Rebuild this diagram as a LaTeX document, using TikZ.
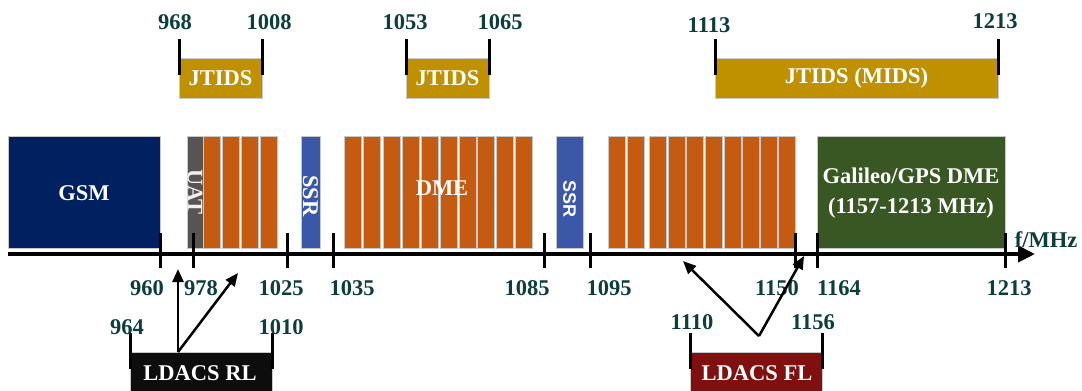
\documentclass[tikz,border=0pt]{standalone}
\usepackage{fontspec}
\setmainfont{Liberation Serif}
\setsansfont{Liberation Sans}
\usetikzlibrary{arrows.meta}
\definecolor{numc}{RGB}{12,62,60}
\definecolor{gsmc}{RGB}{0,32,96}
\definecolor{uatc}{RGB}{85,85,85}
\definecolor{dmec}{RGB}{197,90,17}
\definecolor{ssrc}{RGB}{59,87,167}
\definecolor{galc}{RGB}{56,87,35}
\definecolor{jtc}{RGB}{191,144,0}
\definecolor{rlc}{RGB}{13,13,13}
\definecolor{flc}{RGB}{128,16,16}
\definecolor{edgec}{RGB}{200,200,200}
\begin{document}
\begin{tikzpicture}[x=1pt,y=-1pt,
 band/.style={draw=edgec, line width=0.8pt, anchor=north west, inner sep=0pt, outer sep=0pt},
 lbl/.style={text=white, font=\fontsize{22.5}{26}\selectfont\bfseries, inner sep=0pt},
 num/.style={text=numc, font=\fontsize{22.5}{26}\selectfont\bfseries, inner sep=0pt},
 tickmark/.style={line width=3pt},
 ptr/.style={line width=2.5pt, -{Triangle[length=13pt,width=11pt]}},
]
\useasboundingbox (0,0) rectangle (1082,391);

% main bands
\node[band, fill=gsmc, minimum width=152pt, minimum height=112pt] (gsm) at (8,136) {};
\node[lbl] (gsmt) at (84,193) {GSM};
\node[band, fill=uatc, minimum width=16pt, minimum height=112pt] (uat) at (187,136) {};
\node[lbl, text=white!88!gray, rotate=-90] (uatt) at (195,192) {UAT};
\foreach \x [count=\i] in {203,222,241,260}
  \node[band, fill=dmec, minimum width=17pt, minimum height=112pt] (rl\i) at (\x,136) {};
\node[band, fill=ssrc, minimum width=19pt, minimum height=112pt] (ssra) at (301,136) {};
\node[lbl, rotate=-90] (ssrat) at (310.5,196) {SSR};
\foreach \x [count=\i] in {344,363,383,402,421,440,459,477,496,515}
  \node[band, fill=dmec, minimum width=17pt, minimum height=112pt] (dme\i) at (\x,136) {};
\node[lbl] (dmet) at (442,188) {DME};
\node[band, fill=ssrc, minimum width=27pt, minimum height=112pt] (ssrb) at (556,136) {};
\node[lbl, font=\fontsize{18}{20}\sffamily\bfseries, rotate=-90] (ssrbt) at (569.5,199) {SSR};
\foreach \x [count=\i] in {608,627,649,668,686,705,724,742,760,778}
  \node[band, fill=dmec, minimum width=17pt, minimum height=112pt] (fl\i) at (\x,136) {};
\node[band, fill=galc, minimum width=188pt, minimum height=112pt] (gal) at (817,136) {};
\node[lbl, align=center] (galt) at (911,193.5) {Galileo/GPS DME\\[4pt](1157-1213 MHz)};

% axis
\coordinate (ax0) at (8,254);
\coordinate (ax1) at (1035,254);
\draw[line width=4pt, -{Triangle[length=17pt,width=16pt]}] (ax0) -- (ax1);
\foreach \x in {160,193,287,333,544,590,795,817,1005}
  \draw[tickmark] (\x,233) -- (\x,268);
\node[num] (fmhz) at (1046,240) {f/MHz};

% axis labels
\node[num] (n960) at (147,288) {960};
\node[num] (n978) at (201,288) {978};
\node[num] (n1025) at (281,288) {1025};
\node[num] (n1035) at (352,288) {1035};
\node[num] (n1085) at (527,288) {1085};
\node[num] (n1095) at (609,288) {1095};
\node[num] (n1150) at (777,288) {1150};
\node[num] (n1164) at (839,288) {1164};
\node[num] (n1213) at (1009,288) {1213};

% JTIDS
\node[band, fill=jtc, minimum width=83pt, minimum height=40pt] (j1) at (179,58) {};
\node[lbl] (j1t) at (j1.center) {JTIDS};
\node[band, fill=jtc, minimum width=83pt, minimum height=40pt] (j2) at (406,58) {};
\node[lbl] (j2t) at (j2.center) {JTIDS};
\node[band, fill=jtc, minimum width=283pt, minimum height=40pt] (j3) at (715,58) {};
\node[lbl] (j3t) at (j3.center) {JTIDS (MIDS)};
\foreach \x in {179,262,406,489,715,998}
  \draw[tickmark] (\x,39) -- (\x,75);
\node[num] (n968) at (175,22) {968};
\node[num] (n1008) at (269,22) {1008};
\node[num] (n1053) at (405,22) {1053};
\node[num] (n1065) at (500,22) {1065};
\node[num] (n1113) at (709,25) {1113};
\node[num] (n1213t) at (995,21) {1213};

% LDACS
\node[band, fill=rlc, minimum width=142pt, minimum height=42pt] (rl) at (130,352) {};
\node[lbl] (rlt) at (200,373) {LDACS RL};
\node[band, fill=flc, minimum width=132pt, minimum height=42pt] (fl) at (690,352) {};
\node[lbl] (flt) at (757,373) {LDACS FL};
\foreach \x in {130,272,690,822}
  \draw[tickmark] (\x,333) -- (\x,369);
\node[num] (n964) at (127,327) {964};
\node[num] (n1010) at (281,327) {1010};
\node[num] (n1110) at (692,322) {1110};
\node[num] (n1156) at (813,322) {1156};

% pointers
\coordinate (rla) at (178,352);
\coordinate (rlp1) at (178,269);
\coordinate (rlp2) at (238,273);
\draw[ptr] (rla) -- (rlp1);
\draw[ptr] (rla) -- (rlp2);
\coordinate (fla) at (759,336);
\coordinate (flp1) at (683,261);
\coordinate (flp2) at (804,256);
\draw[ptr] (fla) -- (flp1);
\draw[ptr] (fla) -- (flp2);
\end{tikzpicture}
\end{document}
